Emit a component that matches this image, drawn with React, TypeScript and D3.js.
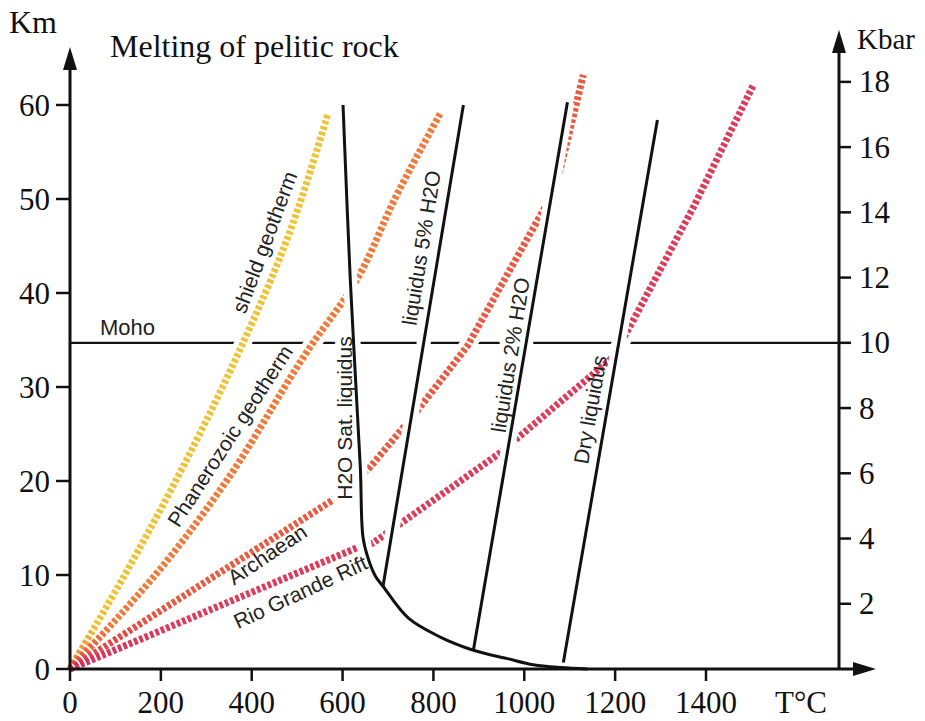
import React from "react";
import * as d3 from "d3";

// ---------- data ----------
const xTicks = [0, 200, 400, 600, 800, 1000, 1200, 1400];
const kmTicks = [0, 10, 20, 30, 40, 50, 60];
const kbarTicks = [2, 4, 6, 8, 10, 12, 14, 16, 18];
const MOHO_KM = 34.7;
const MOHO_KBAR = 10;

// geotherms: temperature (°C) vs depth (km)
const shieldT = [0, 139, 381, 469, 568];
const shieldD = [0, 11.6, 34.7, 44.6, 59.1];
const phanT = [0, 215, 330, 535, 620, 720, 815];
const phanD = [0, 11.6, 19, 34.7, 40.5, 50.5, 59.1];
const archT = [0, 579, 661, 760, 874, 1051, 1079, 1130];
const archD = [0, 18, 21.5, 27.2, 34.3, 49.6, 53.1, 63.2];
const rioT = [0, 632, 667, 947, 1196, 1240, 1372, 1504];
const rioD = [0, 12.9, 13.4, 23, 33.2, 37.1, 49.1, 62.1];

// liquidus curves
const h2oSatT = [601, 617, 639, 645, 656, 672, 689, 745, 815, 888, 963, 1020, 1080, 1139];
const h2oSatD = [60.0, 41.4, 21.5, 14.0, 11.8, 9.9, 8.8, 5.4, 3.4, 2.0, 1.1, 0.45, 0.15, 0.0];
const liq5T = [689, 866];
const liq5D = [8.8, 60.0];
const liq2T = [888, 1095];
const liq2D = [2.0, 60.3];
const dryT = [1086, 1293];
const dryD = [0.7, 58.4];

// labels: text, centre T, centre depth, angle
const labelText = ["shield geotherm", "Phanerozoic geotherm", "Archaean", "Rio Grande Rift", "H2O Sat. liquidus", "liquidus 5% H2O", "liquidus 2% H2O", "Dry liquidus"];
const labelT = [428, 352, 434, 507, 604, 773, 969, 1145];
const labelD = [45.4, 24.8, 12.2, 8.2, 26.7, 44.8, 33.4, 27.6];
const labelAngle = [-69.5, -57, -34, -25, -90, -81, -81, -80];
const labelHalo = [false, false, false, false, true, false, true, false];

const SERIF = '"Liberation Serif", "Times New Roman", serif';
const SANS = '"Liberation Sans", Arial, sans-serif';

export default function App() {
  const x = d3.scaleLinear().domain([0, 1400]).range([70, 706]);
  const y = d3.scaleLinear().domain([0, 60]).range([669, 105]);
  const yK = d3.scaleLinear().domain([0, MOHO_KBAR]).range([669, y(MOHO_KM)]);

  const zip = (T: number[], D: number[]) => T.map((t, i) => [t, D[i]] as [number, number]);
  const lineLin = d3.line<[number, number]>().x((p) => x(p[0])).y((p) => y(p[1]));
  const lineMY = d3.line<[number, number]>().x((p) => x(p[0])).y((p) => y(p[1])).curve(d3.curveMonotoneY);
  const lineCR = d3.line<[number, number]>().x((p) => x(p[0])).y((p) => y(p[1])).curve(d3.curveCatmullRom.alpha(0.5));

  const geotherms = [
    { id: "shield", d: lineMY(zip(shieldT, shieldD))!, T: shieldT, D: shieldD, c0: "#ef7434", c1: "#ecc43a" },
    { id: "phan", d: lineMY(zip(phanT, phanD))!, T: phanT, D: phanD, c0: "#e8463f", c1: "#ef7a3a" },
    { id: "arch", d: lineLin(zip(archT, archD))!, T: archT, D: archD, c0: "#de3a4a", c1: "#e85a42" },
    { id: "rio", d: lineLin(zip(rioT, rioD))!, T: rioT, D: rioD, c0: "#d42f5a", c1: "#dc3c5c" },
  ];
  const liquidus = [
    lineCR(zip(h2oSatT, h2oSatD))!,
    lineLin(zip(liq5T, liq5D))!,
    lineLin(zip(liq2T, liq2D))!,
    lineLin(zip(dryT, dryD))!,
  ];

  const axisColor = "#111";
  const xL = x(0), xR = 839, y0 = y(0);

  return (
    <svg width={925} height={721} style={{ position: "absolute", left: 0, top: 0, background: "#fff" }}>
      <defs>
        {geotherms.map((g) => (
          <linearGradient key={g.id} id={"grad-" + g.id} gradientUnits="userSpaceOnUse"
            x1={x(0)} y1={y(0)} x2={x(g.T[1] * 0.4)} y2={y(g.D[1] * 0.4)}>
            <stop offset="0" stopColor={g.c0} />
            <stop offset="1" stopColor={g.c1} />
          </linearGradient>
        ))}
      </defs>
      <rect x={0} y={0} width={925} height={721} fill="#fff" />

      {/* Moho */}
      <line x1={xL} x2={xR} y1={y(MOHO_KM)} y2={y(MOHO_KM)} stroke={axisColor} strokeWidth={2.2} />

      {/* geotherm halos */}
      {geotherms.map((g) => (
        <path key={"h" + g.id} d={g.d} fill="none" stroke="#fff" strokeWidth={17} />
      ))}
      {/* geotherms */}
      {geotherms.map((g) => (
        <path key={g.id} d={g.d} fill="none" stroke={`url(#grad-${g.id})`} strokeWidth={7}
          strokeDasharray="3.6,2.2" />
      ))}

      {/* label halos */}
      {labelText.map((t, i) =>
        labelHalo[i] ? (
          <text key={"lh" + i} transform={`translate(${x(labelT[i])},${y(labelD[i])}) rotate(${labelAngle[i]})`}
            textAnchor="middle" dominantBaseline="central" fontFamily={SANS} fontSize={21}
            fill="#fff" stroke="#fff" strokeWidth={12} strokeLinejoin="round">{t}</text>
        ) : null
      )}

      {/* liquidus halos and lines */}
      {liquidus.map((d, i) => (
        <path key={"lqh" + i} d={d} fill="none" stroke="#fff" strokeWidth={14} />
      ))}
      {liquidus.map((d, i) => (
        <path key={"lq" + i} d={d} fill="none" stroke="#111" strokeWidth={3} strokeLinejoin="round" />
      ))}

      {/* axes */}
      <g stroke={axisColor} strokeWidth={3} fill="none">
        <line x1={xL} x2={xL} y1={y0 + 1} y2={62} />
        <line x1={xR} x2={xR} y1={y0 + 1} y2={46} />
        <line x1={xL - 1} x2={860} y1={y0} y2={y0} />
        {kmTicks.map((k) => (
          <line key={"km" + k} x1={xL - 14} x2={xL} y1={y(k)} y2={y(k)} strokeWidth={2.5} />
        ))}
        {kbarTicks.map((k) => (
          <line key={"kb" + k} x1={xR} x2={xR + 12} y1={yK(k)} y2={yK(k)} strokeWidth={2.5} />
        ))}
        {xTicks.map((t) => (
          <line key={"xt" + t} x1={x(t)} x2={x(t)} y1={y0} y2={y0 + 12} strokeWidth={2.5} />
        ))}
      </g>
      <g fill={axisColor}>
        <path d={`M${xL},47 L${xL - 7},70 L${xL + 7},70 Z`} />
        <path d={`M${xR},30 L${xR - 7},53 L${xR + 7},53 Z`} />
        <path d={`M876,${y0} L853,${y0 - 7} L853,${y0 + 7} Z`} />
      </g>

      {/* tick labels */}
      <g fontFamily={SERIF} fontSize={31} fill="#111">
        {kmTicks.map((k) => (
          <text key={"kml" + k} x={50} y={y(k)} textAnchor="end" dominantBaseline="central">{k}</text>
        ))}
        {kbarTicks.map((k) => (
          <text key={"kbl" + k} x={859} y={yK(k)} textAnchor="start" dominantBaseline="central">{k}</text>
        ))}
        {xTicks.map((t) => (
          <text key={"xl" + t} x={x(t)} y={713} textAnchor="middle">{t}</text>
        ))}
        <text x={775} y={713}>T°C</text>
        <text x={857} y={49} fontSize={29}>Kbar</text>
        <text x={9} y={33} fontSize={32}>Km</text>
        <text x={110} y={57} fontSize={32}>Melting of pelitic rock</text>
      </g>

      {/* Moho label */}
      <text x={x(66)} y={y(MOHO_KM) - 8} fontFamily={SANS} fontSize={22} fill="#222">Moho</text>

      {/* annotation labels */}
      {labelText.map((t, i) => (
        <text key={"l" + i} transform={`translate(${x(labelT[i])},${y(labelD[i])}) rotate(${labelAngle[i]})`}
          textAnchor="middle" dominantBaseline="central" fontFamily={SANS} fontSize={21} fill="#222">{t}</text>
      ))}
    </svg>
  );
}
